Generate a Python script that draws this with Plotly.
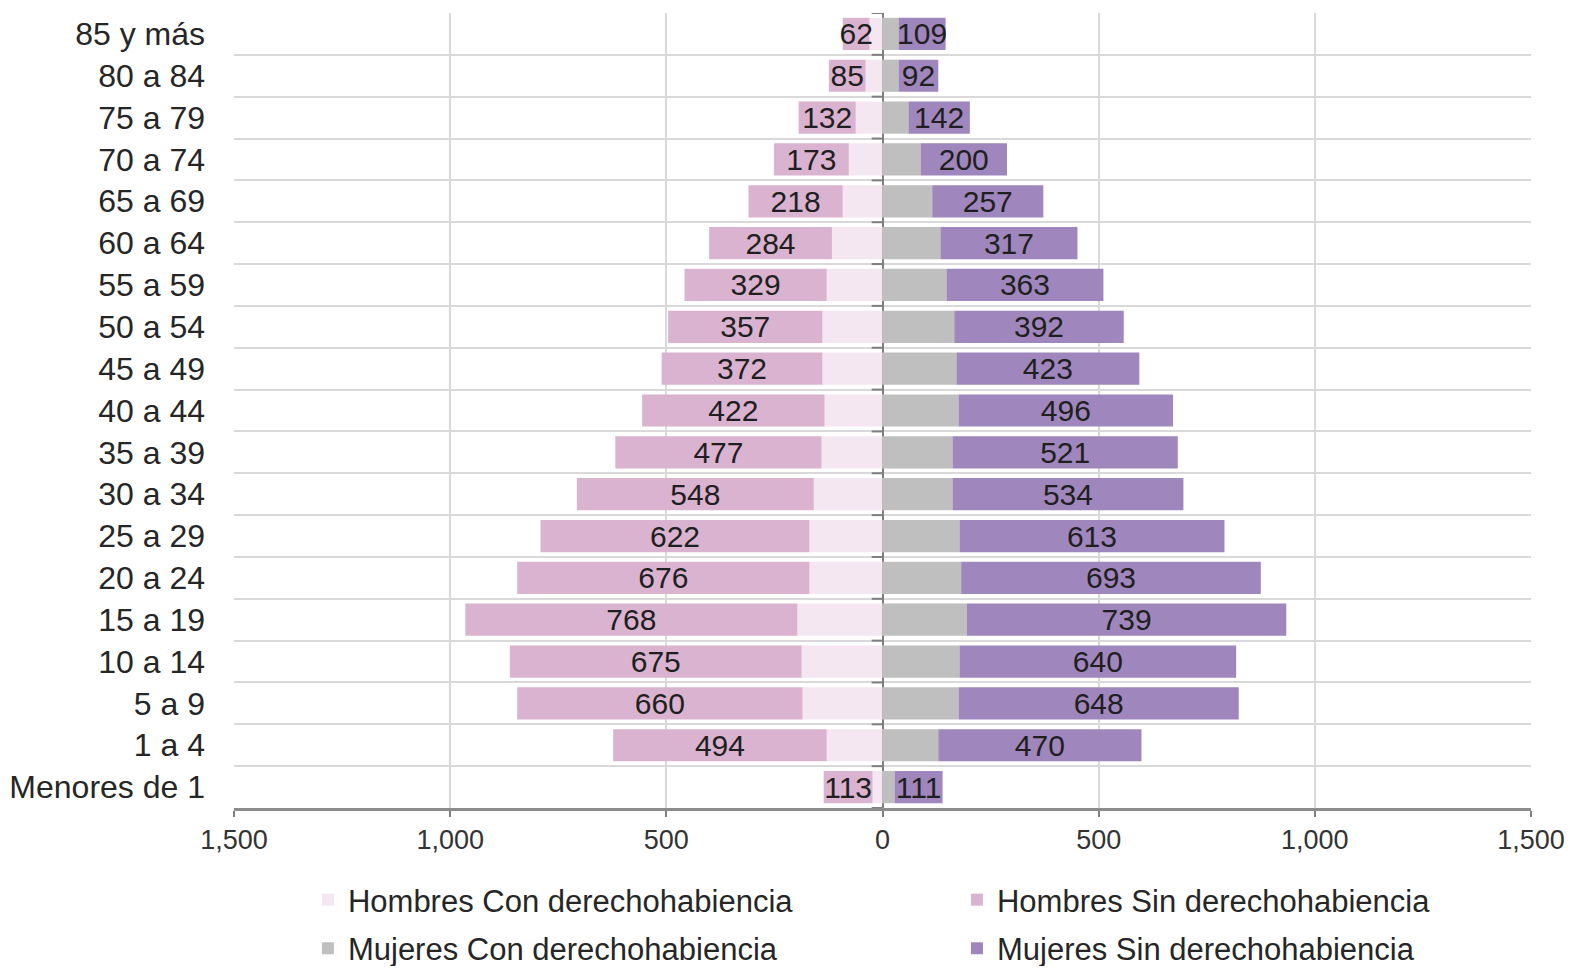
import plotly.graph_objects as go

categories = ["Menores de 1", "1 a 4", "5 a 9", "10 a 14", "15 a 19", "20 a 24", "25 a 29",
              "30 a 34", "35 a 39", "40 a 44", "45 a 49", "50 a 54", "55 a 59", "60 a 64",
              "65 a 69", "70 a 74", "75 a 79", "80 a 84", "85 y más"]
hombres_con = [23, 129, 185, 187, 197, 169, 169, 159, 141, 134, 139, 139, 129, 117, 92, 78, 62, 39, 30]
hombres_sin = [113, 494, 660, 675, 768, 676, 622, 548, 477, 422, 372, 357, 329, 284, 218, 173, 132, 85, 62]
mujeres_con = [28, 129, 176, 178, 195, 182, 178, 162, 162, 176, 171, 166, 148, 134, 115, 88, 60, 37, 37]
mujeres_sin = [111, 470, 648, 640, 739, 693, 613, 534, 521, 496, 423, 392, 363, 317, 257, 200, 142, 92, 109]
x_ticks = [-1500, -1000, -500, 0, 500, 1000, 1500]

FONT = "Liberation Sans, Arial, sans-serif"
ypos = list(range(len(categories)))

c_hcon = "#f4e7f1"
c_hsin = "#d9b3cf"
c_mcon = "#bfbfbf"
c_msin = "#9f86bc"

label_font = dict(family=FONT, size=30, color="#1f1f1f")

fig = go.Figure()
fig.add_trace(go.Bar(y=ypos, x=[-v for v in hombres_con], orientation="h", name="Hombres Con derechohabiencia",
                     marker=dict(color=c_hcon, line=dict(width=0)), legend="legend"))
fig.add_trace(go.Bar(y=ypos, x=[-v for v in hombres_sin], orientation="h", name="Hombres Sin derechohabiencia",
                     marker=dict(color=c_hsin, line=dict(width=0)), legend="legend2",
                     text=[str(v) for v in hombres_sin], textposition="inside", insidetextanchor="middle",
                     textangle=0, constraintext="none", cliponaxis=False, textfont=label_font))
fig.add_trace(go.Bar(y=ypos, x=mujeres_con, orientation="h", name="Mujeres Con derechohabiencia",
                     marker=dict(color=c_mcon, line=dict(width=0)), legend="legend3"))
fig.add_trace(go.Bar(y=ypos, x=mujeres_sin, orientation="h", name="Mujeres Sin derechohabiencia",
                     marker=dict(color=c_msin, line=dict(width=0)), legend="legend4",
                     text=[str(v) for v in mujeres_sin], textposition="inside", insidetextanchor="middle",
                     textangle=0, constraintext="none", cliponaxis=False, textfont=label_font))

# small tick marks on the central axis at category boundaries
for i in range(len(categories) + 1):
    fig.add_shape(type="line", xref="x", yref="y", x0=-25, x1=0, y0=i - 0.5, y1=i - 0.5,
                  line=dict(color="#7f7f7f", width=2), layer="above")

leg_font = dict(family=FONT, size=31, color="#262626")
def leg(x, y):
    return dict(orientation="h", x=x, y=y, xanchor="left", yanchor="middle",
                font=leg_font, bgcolor="rgba(0,0,0,0)")

fig.update_layout(
    width=1559, height=958,
    barmode="relative", bargap=0.23,
    plot_bgcolor="white", paper_bgcolor="white",
    margin=dict(l=226, r=36, t=5, b=158, autoexpand=False),
    font=dict(family=FONT, color="#262626"),
    xaxis=dict(range=[-1500, 1500], tickvals=x_ticks,
               ticktext=[f"{abs(v):,}" for v in x_ticks],
               tickfont=dict(family=FONT, size=27, color="#333333"),
               showgrid=True, gridcolor="#d9d9d9", gridwidth=2,
               zeroline=True, zerolinecolor="#7f7f7f", zerolinewidth=2,
               showline=True, linecolor="#8c8c8c", linewidth=3,
               ticks="outside", ticklen=6, tickcolor="#7f7f7f", tickwidth=2,
               ticklabelstandoff=0, automargin=False, fixedrange=True),
    yaxis=dict(range=[-0.5, len(categories) - 0.5], tickvals=ypos, ticktext=categories,
               tickfont=dict(family=FONT, size=32, color="#262626"),
               showgrid=False, zeroline=False, showline=False, ticks="",
               ticklabelstandoff=28, automargin=False,
               minor=dict(tick0=-0.5, dtick=1, showgrid=True, gridcolor="#d9d9d9", gridwidth=2, ticks=""),
               fixedrange=True),
    legend=leg(0.057, -0.1157),
    legend2=leg(0.5574, -0.1157),
    legend3=leg(0.057, -0.1770),
    legend4=leg(0.5574, -0.1770),
    showlegend=True,
)

fig.write_html("out.html")
